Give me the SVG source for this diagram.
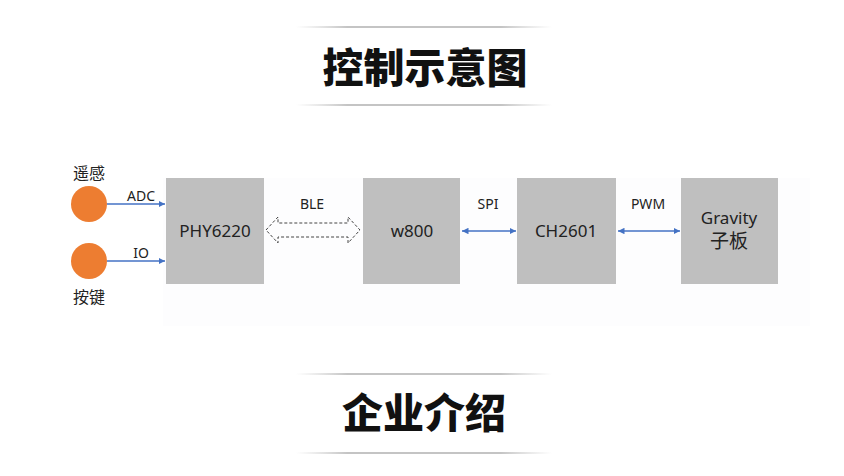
<svg xmlns="http://www.w3.org/2000/svg" width="844" height="476" viewBox="0 0 844 476">
<defs>
<linearGradient id="lg" x1="0" x2="1" y1="0" y2="0">
<stop offset="0" stop-color="#d0d0d0" stop-opacity="0"/>
<stop offset="0.2" stop-color="#c4c4c4"/>
<stop offset="0.8" stop-color="#c4c4c4"/>
<stop offset="1" stop-color="#d0d0d0" stop-opacity="0"/>
</linearGradient>
<marker id="ah" viewBox="0 0 10 10" refX="10" refY="5" markerWidth="5" markerHeight="5" orient="auto-start-reverse">
<path d="M0,0 L10,5 L0,10 z" fill="#4472c4"/>
</marker>
</defs>
<style>
.box{fill:#bfbfbf}
.dot{fill:#ed7d31}
.lbl{font-family:"Noto Sans","Noto Sans CJK SC",sans-serif;font-size:17px;fill:#222;text-anchor:middle}
.sm{font-family:"Noto Sans","Noto Sans CJK SC",sans-serif;font-size:14px;fill:#222;text-anchor:middle}
.cj{font-family:"Noto Sans CJK SC",sans-serif;font-size:16px;fill:#222;text-anchor:middle}
.ttl{font-family:"Noto Sans CJK SC",sans-serif;font-weight:900;font-size:41px;fill:#111;text-anchor:middle}
.ln{stroke:#4472c4;stroke-width:1.3;fill:none}
.sep{fill:url(#lg)}
</style>
<rect width="844" height="476" fill="#ffffff"/>
<rect x="163" y="178" width="647" height="148" fill="#fdfdfe"/>
<g id="title1">
<rect class="sep" x="296" y="26" width="256" height="2"/>
<text class="ttl" x="425" y="83">控制示意图</text>
<rect class="sep" x="296" y="104" width="256" height="2"/>
</g>
<g id="title2">
<rect class="sep" x="296" y="373" width="256" height="2"/>
<text class="ttl" x="424" y="428">企业介绍</text>
<rect class="sep" x="296" y="452" width="256" height="2"/>
</g>
<g id="yaogan">
<text class="cj" x="89" y="179">遥感</text>
<circle class="dot" cx="89" cy="204" r="18"/>
</g>
<g id="anjian">
<circle class="dot" cx="89" cy="261" r="18"/>
<text class="cj" x="89" y="303">按键</text>
</g>
<g id="phy6220">
<rect class="box" x="166" y="178" width="98" height="106"/>
<text class="lbl" x="215" y="237">PHY6220</text>
</g>
<g id="w800">
<rect class="box" x="363" y="178" width="97" height="106"/>
<text class="lbl" x="412" y="237">w800</text>
</g>
<g id="ch2601">
<rect class="box" x="517" y="178" width="99" height="106"/>
<text class="lbl" x="566" y="237">CH2601</text>
</g>
<g id="gravity">
<rect class="box" x="681" y="178" width="97" height="106"/>
<text class="lbl" x="729" y="224">Gravity</text>
<text class="lbl" x="729" y="248" style="font-size:19px">子板</text>
</g>
<g id="connectors">
<line class="ln" x1="107" y1="204" x2="165" y2="204" marker-end="url(#ah)"/>
<text class="sm" x="141" y="201">ADC</text>
<line class="ln" x1="107" y1="261" x2="165" y2="261" marker-end="url(#ah)"/>
<text class="sm" x="141" y="258">IO</text>
<path d="M266,230 L278,217 L278,223 L348,223 L348,217 L360,230 L348,243 L348,237 L278,237 L278,243 Z" fill="none" stroke="#444" stroke-width="1" stroke-dasharray="3,2"/>
<text class="sm" x="312" y="209">BLE</text>
<line class="ln" x1="462" y1="231" x2="516" y2="231" marker-start="url(#ah)" marker-end="url(#ah)"/>
<text class="sm" x="488" y="209">SPI</text>
<line class="ln" x1="618" y1="231" x2="680" y2="231" marker-start="url(#ah)" marker-end="url(#ah)"/>
<text class="sm" x="648" y="209">PWM</text>
</g>
</svg>
